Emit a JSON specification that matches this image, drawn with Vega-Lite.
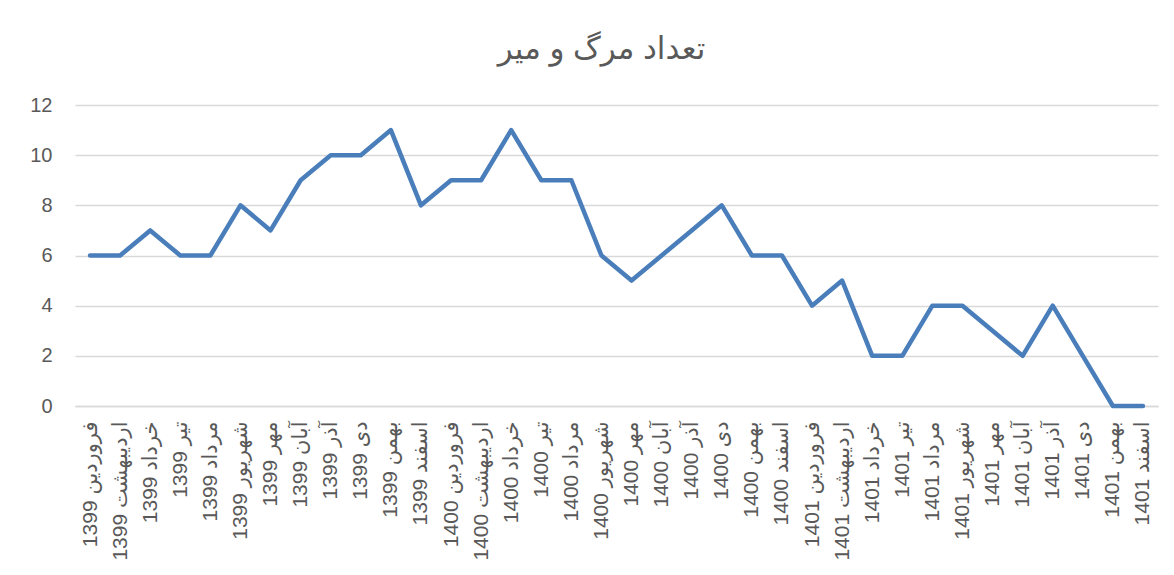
{
  "$schema": "https://vega.github.io/schema/vega-lite/v6.json",
  "autosize": {"type": "none"},
  "width": 1083,
  "height": 301,
  "padding": {"left": 75, "top": 105, "right": 16, "bottom": 169},
  "background": "white",
  "title": {
    "text": "تعداد مرگ و میر",
    "fontSize": 31,
    "font": "Liberation Sans, DejaVu Sans",
    "fontWeight": "normal",
    "color": "#595959",
    "offset": 29,
    "dx": -15
  },
  "config": {
    "view": {"stroke": null},
    "axis": {"labelFont": "Liberation Sans, DejaVu Sans", "labelColor": "#595959"}
  },
  "data": {
    "values": [
      {"month": "فروردین 1399", "value": 6},
      {"month": "اردیبهشت 1399", "value": 6},
      {"month": "خرداد 1399", "value": 7},
      {"month": "تیر 1399", "value": 6},
      {"month": "مرداد 1399", "value": 6},
      {"month": "شهریور 1399", "value": 8},
      {"month": "مهر 1399", "value": 7},
      {"month": "آبان 1399", "value": 9},
      {"month": "آذر 1399", "value": 10},
      {"month": "دی 1399", "value": 10},
      {"month": "بهمن 1399", "value": 11},
      {"month": "اسفند 1399", "value": 8},
      {"month": "فروردین 1400", "value": 9},
      {"month": "اردیبهشت 1400", "value": 9},
      {"month": "خرداد 1400", "value": 11},
      {"month": "تیر 1400", "value": 9},
      {"month": "مرداد 1400", "value": 9},
      {"month": "شهریور 1400", "value": 6},
      {"month": "مهر 1400", "value": 5},
      {"month": "آبان 1400", "value": 6},
      {"month": "آذر 1400", "value": 7},
      {"month": "دی 1400", "value": 8},
      {"month": "بهمن 1400", "value": 6},
      {"month": "اسفند 1400", "value": 6},
      {"month": "فروردین 1401", "value": 4},
      {"month": "اردیبهشت 1401", "value": 5},
      {"month": "خرداد 1401", "value": 2},
      {"month": "تیر 1401", "value": 2},
      {"month": "مرداد 1401", "value": 4},
      {"month": "شهریور 1401", "value": 4},
      {"month": "مهر 1401", "value": 3},
      {"month": "آبان 1401", "value": 2},
      {"month": "آذر 1401", "value": 4},
      {"month": "دی 1401", "value": 2},
      {"month": "بهمن 1401", "value": 0},
      {"month": "اسفند 1401", "value": 0}
    ]
  },
  "mark": {"type": "line", "color": "#4a7ebb", "strokeWidth": 4.5, "strokeJoin": "round", "strokeCap": "round"},
  "encoding": {
    "x": {
      "field": "month",
      "type": "ordinal",
      "sort": null,
      "scale": {"type": "point", "padding": 0.5},
      "axis": {
        "title": null,
        "labelAngle": 270,
        "labelFontSize": 21,
        "ticks": false,
        "domainColor": "#d9d9d9",
        "domainWidth": 1.5,
        "labelPadding": 15,
        "grid": false
      }
    },
    "y": {
      "field": "value",
      "type": "quantitative",
      "scale": {"domain": [0, 12], "nice": false},
      "axis": {
        "title": null,
        "values": [0, 2, 4, 6, 8, 10, 12],
        "labelFontSize": 20,
        "ticks": false,
        "domain": false,
        "gridColor": "#d9d9d9",
        "gridWidth": 1.5,
        "labelPadding": 23
      }
    }
  }
}
